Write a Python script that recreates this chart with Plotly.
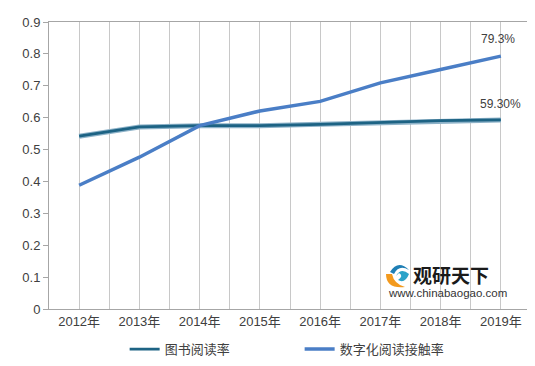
import plotly.graph_objects as go

years = ["2012年", "2013年", "2014年", "2015年", "2016年", "2017年", "2018年", "2019年"]
book_rate = [0.542, 0.571, 0.575, 0.575, 0.579, 0.584, 0.591, 0.593]
digital_rate = [0.388, 0.476, 0.575, 0.621, 0.651, 0.709, 0.751, 0.793]
book_name = "图书阅读率"
digital_name = "数字化阅读接触率"
book_label = "59.30%"
digital_label = "79.3%"

xs = list(range(len(years)))
FONT = "Liberation Sans, Noto Sans CJK SC, sans-serif"
TXT = "#404040"
GRID = "#C8C8C8"

# plot area in pixels (for placing the watermark)
L, R, T, B = 41, 523, 14, 301


def px(x, y):
    return (x - L) / (R - L), (B - y) / (B - T)


def path(points):
    parts = []
    for cmd, pts in points:
        coords = " ".join("%.4f %.4f" % px(*p) for p in pts)
        parts.append(cmd + " " + coords)
    return " ".join(parts) + " Z"


fig = go.Figure()
fig.add_trace(go.Scatter(x=xs, y=book_rate, mode="lines", line=dict(color="#8DB2C8", width=5),
                         showlegend=False, hoverinfo="skip"))
fig.add_trace(go.Scatter(x=xs, y=book_rate, mode="lines", name=book_name,
                         line=dict(color="#1D6384", width=2.8)))
fig.add_trace(go.Scatter(x=xs, y=digital_rate, mode="lines", name=digital_name,
                         line=dict(color="#4A7EC6", width=3.5)))

fig.add_annotation(x=xs[-1], y=digital_rate[-1], text=digital_label, showarrow=False,
                   yshift=17, xshift=-3, font=dict(size=12, color=TXT, family=FONT))
fig.add_annotation(x=xs[-1], y=book_rate[-1], text=book_label, showarrow=False,
                   yshift=16, xshift=0, font=dict(size=12, color=TXT, family=FONT))

# watermark
wx, wy = px(404, 266)
fig.add_annotation(xref="paper", yref="paper", x=wx, y=wy, text="<b>观研天下</b>",
                   showarrow=False, xanchor="left", yanchor="middle", borderpad=0,
                   font=dict(size=19, color="#1a1a1a", family="Noto Sans CJK SC"))
ux, uy = px(379, 285)
fig.add_annotation(xref="paper", yref="paper", x=ux, y=uy, text="www.chinabaogao.com",
                   showarrow=False, xanchor="left", yanchor="middle", borderpad=0,
                   font=dict(size=11.5, color="#333333", family=FONT))
# logo approximation
fig.add_shape(type="path", xref="paper", yref="paper",
              path=path([("M", [(378, 266)]), ("Q", [(378, 281), (397, 279)]),
                         ("Q", [(386, 276), (384, 266)])]),
              fillcolor="#F39A1E", line=dict(width=0))
fig.add_shape(type="path", xref="paper", yref="paper",
              path=path([("M", [(382, 264)]), ("Q", [(390, 251), (401, 262)]),
                         ("Q", [(391, 256), (386, 266)])]),
              fillcolor="#1F7FB5", line=dict(width=0))
fig.add_shape(type="path", xref="paper", yref="paper",
              path=path([("M", [(388, 268)]), ("Q", [(393, 259), (401, 266)]),
                         ("Q", [(397, 276), (390, 272)]), ("Q", [(396, 268), (391, 265)])]),
              fillcolor="#2BA3C9", line=dict(width=0))

fig.update_layout(
    width=535, height=366,
    margin=dict(l=L, r=535 - R, t=T, b=366 - B),
    paper_bgcolor="white", plot_bgcolor="white",
    font=dict(family=FONT, size=13, color=TXT),
    showlegend=True,
    legend=dict(orientation="h", x=0.52, xanchor="center", yref="container", y=0.068, yanchor="middle",
                font=dict(size=13, color=TXT, family="Noto Sans CJK SC"),
                entrywidth=130, itemwidth=30),
    xaxis=dict(range=[-0.5, 7.5], tickmode="array", tickvals=xs, ticktext=years,
               showgrid=True, gridcolor=GRID, gridwidth=1, automargin=False,
               minor=dict(tickmode="linear", tick0=-0.5, dtick=1, showgrid=True, gridcolor=GRID, gridwidth=1),
               showline=True, linecolor="#A6A6A6", linewidth=1, mirror=True,
               ticks="", zeroline=False, tickfont=dict(size=13, color=TXT, family=FONT)),
    yaxis=dict(range=[0, 0.9], tickmode="array", tickvals=[0, 0.1, 0.2, 0.3, 0.4, 0.5, 0.6, 0.7, 0.8, 0.9],
               ticktext=["0", "0.1", "0.2", "0.3", "0.4", "0.5", "0.6", "0.7", "0.8", "0.9"],
               showgrid=False, zeroline=False, automargin=False,
               showline=True, linecolor="#A6A6A6", linewidth=1, mirror=True,
               ticks="outside", ticklen=5, tickcolor="#A6A6A6",
               tickfont=dict(size=13, color=TXT, family=FONT)),
)

fig.write_html("out.html")
